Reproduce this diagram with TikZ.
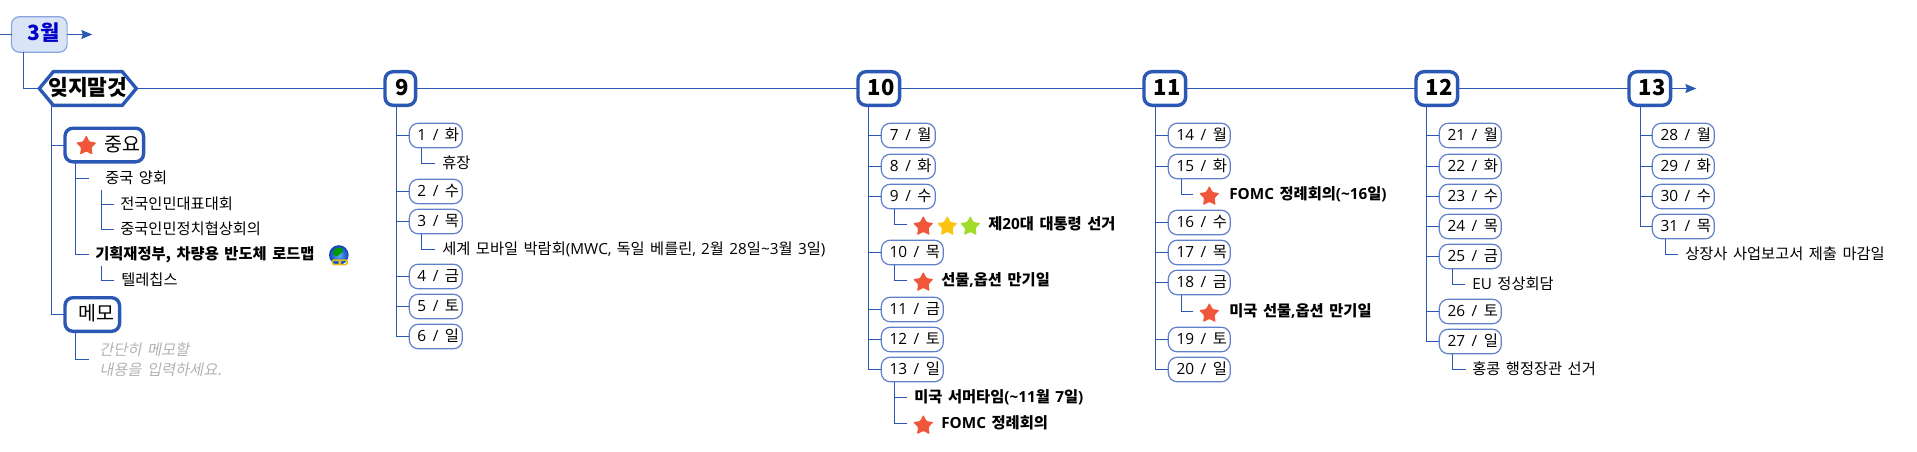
\documentclass[tikz,border=0pt]{standalone}
\usepackage{fontspec}
\usetikzlibrary{arrows.meta,shapes.geometric,calc}
\setmainfont{Noto Sans CJK KR}[WordSpace=1.6]
\newfontfamily\latf{Open Sans}[Scale=1.0,WordSpace=1.25]
\newfontfamily\memof[FakeSlant=0.2,WordSpace=1.6]{Noto Sans CJK KR}
\newcommand{\Lt}[1]{{\latf #1}}
\definecolor{linec}{HTML}{2A58B4}
\definecolor{pillc}{HTML}{5F80CB}
\definecolor{starr}{HTML}{F0563A}
\definecolor{stary}{HTML}{FCC40F}
\definecolor{starg}{HTML}{A0DC28}
\definecolor{topfill}{HTML}{D9E4F7}
\definecolor{topline}{HTML}{8AA5DC}
\definecolor{toptext}{HTML}{0000C8}
\definecolor{chain}{HTML}{E2BE1E}
\definecolor{globein}{HTML}{5FB0F5}
\definecolor{globeout}{HTML}{0F3FB8}
\tikzset{
  conn/.style={draw=linec,line width=1pt},
  bigbox/.style={draw=linec,line width=3.4pt,fill=white,rounded corners=8pt,inner sep=0pt,outer sep=0pt,minimum height=33.6pt,font=\fontsize{22}{22}\selectfont\bfseries,text height=17pt,text depth=3pt},
  subbox/.style={bigbox,font=\fontsize{19.5}{19.5}\selectfont,text height=15.5pt,text depth=3pt},
  pill/.style={draw=pillc,line width=1.2pt,fill=white,rounded corners=9pt,inner sep=0pt,outer sep=0pt,minimum height=24.6pt,anchor=west,font=\fontsize{15.4}{15.4}\selectfont,text height=13pt,text depth=3pt},
  note/.style={anchor=west,inner ysep=0pt,inner xsep=0pt,outer sep=0pt,font=\fontsize{15.3}{15.3}\selectfont,text height=13pt,text depth=3pt},
  bnote/.style={note,font=\fontsize{15.3}{15.3}\selectfont\bfseries},
  starmark/.style={star,star points=5,star point ratio=1.95,minimum size=21.5pt,inner sep=0pt,outer sep=0pt,rounded corners=1pt},
  tiparrow/.style={conn,-{Stealth[length=11pt,width=9pt,inset=1.5pt]}},
}
\newcommand{\Pill}[6]{\node[pill,minimum width=#4pt] (#1) at (#2,#3) {\hspace*{5pt}\Lt{#5\hspace{1.5pt} / \hspace{1.5pt}}#6};}
\begin{document}
\begin{tikzpicture}[x=1pt,y=-1pt]
\useasboundingbox (0,0) rectangle (1917,452);
\begin{scope}[yshift=-.5pt,xshift=.3pt]
% top node
\coordinate (topin) at (0,34);
\coordinate (topout) at (92,34);
\node[draw=topline,line width=1.2pt,fill=topfill,rounded corners=8pt,inner sep=0pt,outer sep=0pt,minimum width=55.6pt,minimum height=35.6pt,font=\fontsize{21}{21}\selectfont\bfseries,text=toptext,text height=16pt,text depth=3pt] (top) at (39,34) {\hspace*{8pt}3월};
\draw[conn] (topin) -- (top.west);
\draw[tiparrow] (top.east) -- (topout);
% hexagon
\node[inner sep=0pt,outer sep=0pt,minimum width=97pt,minimum height=33.6pt,font=\fontsize{21.5}{21.5}\selectfont\bfseries,text height=17pt,text depth=3pt] (hex) at (87.5,88) {잊지말것};
\draw[draw=linec,line width=3.4pt,line join=miter] (hex.west) -- ([xshift=14pt]hex.north west) -- ([xshift=-14pt]hex.north east) -- (hex.east) -- ([xshift=-14pt]hex.south east) -- ([xshift=14pt]hex.south west) -- cycle;
\draw[conn] ([xshift=12pt]top.south west) |- (hex.west);
% month boxes
\node[bigbox,minimum width=30.6pt] (n9) at (400,88) {\hspace*{4pt}9};
\node[bigbox,minimum width=41.6pt] (n10) at (878.5,88) {\hspace*{5pt}10};
\node[bigbox,minimum width=41.6pt] (n11) at (1164.5,88) {\hspace*{5pt}11};
\node[bigbox,minimum width=41.6pt] (n12) at (1436.5,88) {\hspace*{5pt}12};
\node[bigbox,minimum width=41.6pt] (n13) at (1649.5,88) {\hspace*{5pt}13};
\coordinate (endout) at (1696,88);
\draw[conn] (hex.east) -- (n9.west);
\draw[conn] (n9.east) -- (n10.west);
\draw[conn] (n10.east) -- (n11.west);
\draw[conn] (n11.east) -- (n12.west);
\draw[conn] (n12.east) -- (n13.west);
\draw[tiparrow] (n13.east) -- (endout);
% left group
\node[subbox,minimum width=78.6pt] (imp) at (104,144.5) {\hspace*{36pt}중요};
\node[starmark,fill=starr] (impstar) at (86,145.5) {};
\node[subbox,minimum width=54.6pt] (memo) at (92,314) {\hspace*{8pt}메모};
\draw[conn] ([xshift=12pt]hex.south west) |- (imp.west);
\draw[conn] ([xshift=12pt]hex.south west) |- (memo.west);
\node[note] (cn) at (105,178) {중국 양회};
\node[note] (cn1) at (120,204) {전국인민대표대회};
\node[note] (cn2) at (120,229) {중국인민정치협상회의};
\node[bnote] (fin) at (95,254) {기획재정부, 차량용 반도체 로드맵};
\node[note] (tc) at (121,280) {텔레칩스};
\node[note,text=black!30,font=\fontsize{15.3}{20}\selectfont\memof,align=left,text height=,text depth=] (mt) at (99,359) {간단히 메모할\\내용을 입력하세요.};
\draw[conn] ([xshift=-28.5pt]imp.south) |- ([xshift=-16pt]cn.west);
\draw[conn] ([xshift=-28.5pt]imp.south) |- ([xshift=-6pt]fin.west);
\coordinate (cnb) at (101.5,189);
\draw[conn] (cnb) |- ([xshift=-6pt]cn1.west);
\draw[conn] (cnb) |- ([xshift=-6pt]cn2.west);
\coordinate (finb) at (101.5,265);
\draw[conn] (finb) |- ([xshift=-7pt]tc.west);
\draw[conn] ([xshift=-16.5pt]memo.south) |- ([xshift=-10pt]mt.west);
% globe
\shade[inner color=globein,outer color=globeout] (338.5,254.5) circle (9.8);
\fill[green!60!black] (333,250) .. controls (337,245) and (342,247) .. (343,250) .. controls (341,254) and (338,253) .. (337,256) .. controls (334,256) and (332,253) .. (333,250) -- cycle;
\draw[draw=chain,line width=1.5pt,rounded corners=1.5pt] (332,259.5) rectangle (340,264);
\draw[draw=chain,line width=1.5pt,rounded corners=1.5pt] (339,259.5) rectangle (347,264);
% 9
\Pill{a1}{409}{135}{53}{1}{화}
\Pill{a2}{409}{191}{53}{2}{수}
\Pill{a3}{409}{221}{53}{3}{목}
\Pill{a4}{409}{276}{53}{4}{금}
\Pill{a5}{409}{306}{53}{5}{토}
\Pill{a6}{409}{336}{53}{6}{일}
\foreach \k in {1,...,6}{\draw[conn] ([xshift=-3.5pt]n9.south) |- (a\k.west);}
\node[note] (at1) at (442,163) {휴장};
\node[note] (at3) at (442,248.5) {세계 모바일 박람회\Lt{(MWC, }독일 베를린\Lt{, 2}월 \Lt{28}일\Lt{\textasciitilde3}월 \Lt{3}일\Lt{)}};
\draw[conn] ([xshift=-14.5pt]a1.south) |- ([xshift=-7pt]at1.west);
\draw[conn] ([xshift=-14.5pt]a3.south) |- ([xshift=-7pt]at3.west);
% 10
\Pill{b1}{881}{135}{54}{7}{월}
\Pill{b2}{881}{166}{54}{8}{화}
\Pill{b3}{881}{196}{54}{9}{수}
\Pill{b4}{881}{252}{62}{10}{목}
\Pill{b5}{881}{309}{62}{11}{금}
\Pill{b6}{881}{339}{62}{12}{토}
\Pill{b7}{881}{369}{62}{13}{일}
\foreach \k in {1,...,7}{\draw[conn] ([xshift=-10pt]n10.south) |- (b\k.west);}
\node[starmark,fill=starr] (s1) at (923,226) {};
\node[starmark,fill=stary] (s2) at (947,226) {};
\node[starmark,fill=starg] (s3) at (970,226) {};
\node[bnote] (bt3) at (988,224) {제\Lt{\bfseries 20}대 대통령 선거};
\node[starmark,fill=starr] (s4) at (923,282) {};
\node[bnote] (bt4) at (941,280) {선물\Lt{\bfseries ,}옵션 만기일};
\node[bnote] (bt7) at (914,397) {미국 서머타임\Lt{\bfseries (\textasciitilde11}월 \Lt{\bfseries 7}일\Lt{\bfseries )}};
\node[starmark,fill=starr] (s5) at (923,425) {};
\node[bnote] (bt8) at (941,423) {\Lt{\bfseries FOMC} 정례회의};
\draw[conn] ([xshift=-14pt]b3.south) |- ([xshift=-16pt,yshift=2pt]s1.center);
\draw[conn] ([xshift=-18pt]b4.south) |- ([xshift=-16pt,yshift=2pt]s4.center);
\draw[conn] ([xshift=-18pt]b7.south) |- ([xshift=-7pt]bt7.west);
\draw[conn] ([xshift=-18pt]b7.south) |- ([xshift=-16pt,yshift=2pt]s5.center);
% 11
\Pill{c1}{1168}{135}{62}{14}{월}
\Pill{c2}{1168}{166}{62}{15}{화}
\Pill{c3}{1168}{222}{62}{16}{수}
\Pill{c4}{1168}{252}{62}{17}{목}
\Pill{c5}{1168}{282}{62}{18}{금}
\Pill{c6}{1168}{339}{62}{19}{토}
\Pill{c7}{1168}{369}{62}{20}{일}
\foreach \k in {1,...,7}{\draw[conn] ([xshift=-9pt]n11.south) |- (c\k.west);}
\node[starmark,fill=starr] (s6) at (1209,196) {};
\node[bnote] (ct2) at (1229,194) {\Lt{\bfseries FOMC} 정례회의\Lt{\bfseries (\textasciitilde16}일\Lt{\bfseries )}};
\node[starmark,fill=starr] (s7) at (1209,313) {};
\node[bnote] (ct5) at (1229,311) {미국 선물\Lt{\bfseries ,}옵션 만기일};
\draw[conn] ([xshift=-18pt]c2.south) |- ([xshift=-16pt,yshift=2pt]s6.center);
\draw[conn] ([xshift=-18pt]c5.south) |- ([xshift=-16pt,yshift=2pt]s7.center);
% 12
\Pill{d1}{1439}{135}{62}{21}{월}
\Pill{d2}{1439}{166}{62}{22}{화}
\Pill{d3}{1439}{196}{62}{23}{수}
\Pill{d4}{1439}{226}{62}{24}{목}
\Pill{d5}{1439}{256}{62}{25}{금}
\Pill{d6}{1439}{311}{62}{26}{토}
\Pill{d7}{1439}{341}{62}{27}{일}
\foreach \k in {1,...,7}{\draw[conn] ([xshift=-10pt]n12.south) |- (d\k.west);}
\node[note] (dt5) at (1472,284) {\Lt{EU} 정상회담};
\node[note] (dt7) at (1472,369) {홍콩 행정장관 선거};
\draw[conn] ([xshift=-18pt]d5.south) |- ([xshift=-7pt]dt5.west);
\draw[conn] ([xshift=-18pt]d7.south) |- ([xshift=-6pt]dt7.west);
% 13
\Pill{e1}{1652}{135}{62}{28}{월}
\Pill{e2}{1652}{166}{62}{29}{화}
\Pill{e3}{1652}{196}{62}{30}{수}
\Pill{e4}{1652}{226}{62}{31}{목}
\foreach \k in {1,...,4}{\draw[conn] ([xshift=-9.5pt]n13.south) |- (e\k.west);}
\node[note] (et4) at (1685,253.5) {상장사 사업보고서 제출 마감일};
\draw[conn] ([xshift=-18pt]e4.south) |- ([xshift=-7pt]et4.west);
\end{scope}
\end{tikzpicture}
\end{document}
